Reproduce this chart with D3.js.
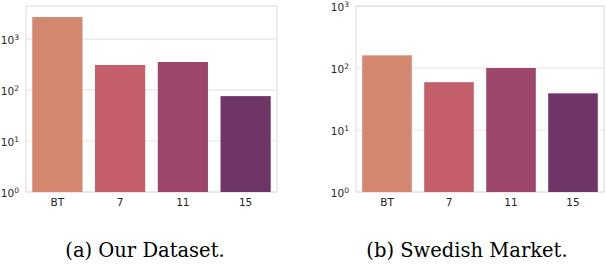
<!DOCTYPE html>
<html>
<head>
<meta charset="utf-8">
<script src="https://cdn.jsdelivr.net/npm/d3@7"></script>
<style>
  html, body { margin: 0; padding: 0; background: #fff; }
  svg { display: block; }
  .cap { font-family: "DejaVu Serif"; }
  .tk { font-family: "DejaVu Sans", sans-serif; }
</style>
</head>
<body>
<svg id="chart" width="606" height="264"></svg>
<script>
const categories = ["BT", "7", "11", "15"];
const ourDataset = [2700, 310, 355, 76];
const swedishMarket = [160, 59, 100, 39];
const tickValues = [1, 10, 100, 1000];
const tickExponents = ["0", "1", "2", "3"];
const barColors = ["#d4876f", "#c45e6a", "#9d476d", "#6e3566"];
const captions = ["(a) Our Dataset.", "(b) Swedish Market."];

const svg = d3.select("#chart");

const panels = [
  { values: ourDataset, left: 26, right: 277, top: 6, bottom: 192, yMax: 4450, caption: captions[0], capX: 145 },
  { values: swedishMarket, left: 356, right: 604, top: 6, bottom: 192, yMax: 1000, caption: captions[1], capX: 467 }
];

panels.forEach(p => {
  const g = svg.append("g");
  const x = d3.scaleBand().domain(categories).range([p.left, p.right])
    .paddingInner(0.2).paddingOuter(0.1);
  const y = d3.scaleLog().domain([1, p.yMax]).range([p.bottom, p.top]);

  g.selectAll("line.grid").data(tickValues).enter().append("line")
    .attr("x1", p.left).attr("x2", p.right)
    .attr("y1", d => y(d)).attr("y2", d => y(d))
    .attr("stroke", "#e6e6e6").attr("stroke-width", 1.2);

  g.append("rect")
    .attr("x", p.left).attr("y", p.top)
    .attr("width", p.right - p.left).attr("height", p.bottom - p.top)
    .attr("fill", "none").attr("stroke", "#e2e2e2").attr("stroke-width", 1.3);

  g.selectAll("rect.bar").data(categories).enter().append("rect")
    .attr("class", "bar")
    .attr("x", d => x(d))
    .attr("width", x.bandwidth())
    .attr("y", (d, i) => y(p.values[i]))
    .attr("height", (d, i) => p.bottom - y(p.values[i]))
    .attr("fill", (d, i) => barColors[i]);

  const yAxis = d3.axisLeft(y).tickValues(tickValues).tickSize(0).tickPadding(7)
    .tickFormat(() => "");
  const ya = g.append("g").attr("transform", `translate(${p.left},0)`).call(yAxis);
  ya.attr("font-family", null).attr("font-size", null);
  ya.select(".domain").remove();
  ya.selectAll(".tick").each(function(d, i) {
    const t = d3.select(this).select("text")
      .attr("class", "tk")
      .attr("font-size", 10.5).attr("fill", "#262626").attr("dy", "0.4em");
    t.append("tspan").text("10");
    t.append("tspan").attr("font-size", 7.5).attr("dy", "-0.55em").text(tickExponents[i]);
  });

  const xAxis = d3.axisBottom(x).tickSize(0).tickPadding(7);
  const xa = g.append("g").attr("transform", `translate(0,${p.bottom})`).call(xAxis);
  xa.attr("font-family", null).attr("font-size", null);
  xa.select(".domain").remove();
  xa.selectAll("text").attr("class", "tk")
    .attr("font-size", 10.5).attr("fill", "#262626");

  g.append("text").attr("class", "cap").attr("x", p.capX).attr("y", 257)
    .attr("text-anchor", "middle")
    .attr("font-size", 19.5).attr("fill", "#000").text(p.caption);
});
</script>
</body>
</html>
